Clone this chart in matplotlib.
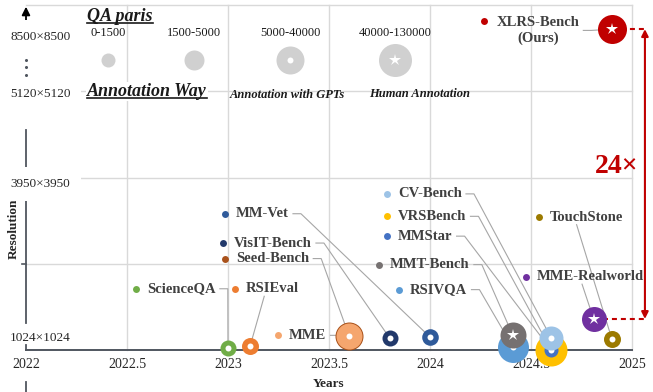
import matplotlib.pyplot as plt

plt.rcParams['font.family'] = ['Liberation Serif', 'DejaVu Serif']

# benchmarks (listed bottom-to-top in drawing order)
names = ['ScienceQA', 'RSIEval', 'Seed-Bench', 'MME', 'VisIT-Bench', 'MM-Vet',
         'RSIVQA', 'MMT-Bench', 'VRSBench', 'MMStar', 'CV-Bench',
         'MME-Realworld', 'TouchStone', 'XLRS-Bench\n(Ours)']
years = [2023.0, 2023.11, 2023.6, 2023.6, 2023.8, 2024.0, 2024.41, 2024.41,
         2024.6, 2024.6, 2024.6, 2024.81, 2024.9, 2024.9]
# position on the (broken) resolution axis, 0 = 1024x1024 baseline
res_level = [0.02, 0.05, 0.16, 0.16, 0.14, 0.15, 0.035, 0.17,
             0.0, 0.0, 0.14, 0.36, 0.13, 3.72]
# marker radius (px) encodes the number of QA pairs
qa_radius = [8, 8.5, 14, 13, 8, 8.3, 15.5, 13, 16, 7, 12, 12.5, 8.5, 14.5]
annotation = ['gpt', 'gpt', 'gpt', 'gpt', 'gpt', 'gpt', 'gpt', 'human',
              'gpt', 'gpt', 'gpt', 'human', 'gpt', 'human']
colors = ['#70AD47', '#ED7D31', '#A9521B', '#F5A66E', '#22396B', '#2F5A9A',
          '#5B9BD5', '#767171', '#FFC000', '#4472C4', '#9DC3E6',
          '#7030A0', '#9C7A00', '#C00000']

# label placement (dot position of each data label)
label_x = [2022.545, 2023.035, 2022.985, 2023.248, 2022.975, 2022.985, 2023.847,
           2023.748, 2023.787, 2023.787, 2023.787, 2024.475, 2024.540, 2024.267]
label_y = [0.71, 0.71, 1.06, 0.17, 1.24, 1.58, 0.70, 0.99, 1.55, 1.32, 1.81,
           0.85, 1.54, 3.81]
leader = ['side', ('below', 0.34), 'side', 'side', 'side', 'side', 'side', 'side',
          'side', 'side', 'side', ('below', 0.42), ('below', 0.36), 'side']

# size legend
qa_bins = ['0-1500', '1500-5000', '5000-40000', '40000-130000']
bin_radius = [7, 10, 14, 16.5]
bin_annotation = [None, None, 'gpt', 'human']
bin_x = [2022.406, 2022.832, 2023.307, 2023.827]

year_ticks = [2022, 2022.5, 2023, 2023.5, 2024, 2024.5, 2025]
res_labels = ['8500×8500', '5120×5120', '3950×3950', '1024×1024']
res_label_pos = [3.63, 2.97, 1.92, 0.14]

axis_col = '#50565F'
grid_col = '#D9D9D9'
text_col = '#404040'
red = '#C00000'

fig = plt.figure(figsize=(6.53, 3.92), dpi=100)
ax = fig.add_axes([26 / 653, 42 / 392, 606 / 653, 345 / 392])
ax.set_xlim(2022, 2025)
ax.set_ylim(0, 4)
for s in ax.spines.values():
    s.set_visible(False)
ax.set_yticks([])
ax.set_xticks(year_ticks, [f'{t:g}' for t in year_ticks])
ax.tick_params(axis='x', length=0, pad=6, labelsize=10, labelcolor='#262626')

# grid
for t in year_ticks[1:]:
    ax.axvline(t, color=grid_col, lw=1, zorder=0, clip_on=False)
for v in [1, 2, 3, 4]:
    ax.axhline(v, color=grid_col, lw=1, zorder=0, clip_on=False)

# x axis and broken y axis
ax.axhline(0, color=axis_col, lw=1.4, zorder=2, clip_on=False)
for lo, hi in [(2.09, 2.55), (0.31, 1.77), (0.0, 0.06), (-0.49, -0.37)]:
    ax.plot([2022, 2022], [lo, hi], color=axis_col, lw=1.3, clip_on=False, zorder=2)
ax.plot([2022 - 0.02, 2022], [1, 1], color=axis_col, lw=1.2, clip_on=False)
for v in [3.36, 3.28, 3.19]:
    ax.plot(2022, v, 'o', ms=1.2, color=axis_col, clip_on=False)
ax.annotate('', xy=(2022, 3.98), xytext=(2022, 3.78),
            arrowprops=dict(arrowstyle='-|>', color='black', lw=1.3,
                            mutation_scale=12, shrinkA=0, shrinkB=0),
            annotation_clip=False)

for i, (lab, v) in enumerate(zip(res_labels, res_label_pos)):
    box = dict(fc='white', ec='none', pad=8) if i < 3 else None
    ax.text(2022.07, v, lab, ha='center', va='center', fontsize=9.5,
            color='#262626', bbox=box, zorder=4, clip_on=False)

ax.text(2021.94, 1.40, 'Resolution', rotation=90, ha='center', va='center',
        fontsize=9.5, fontweight='bold', color='#262626', clip_on=False)
ax.text(2023.5, -0.39, 'Years', ha='center', va='center', fontsize=9.5,
        fontweight='bold', color='#262626', clip_on=False)

# legend block
legend_gray = '#D0D0D0'
qa_title = ax.text(2022.465, 3.81, 'QA paris', ha='center', va='baseline',
                   fontsize=13, fontweight='bold', style='italic', color='#1a1a1a')
way_title = ax.text(2022.599, 2.945, 'Annotation Way', ha='center', va='baseline',
                    fontsize=13, fontweight='bold', style='italic', color='#1a1a1a',
                    bbox=dict(fc='white', ec='none', pad=1), zorder=4)
ax.text(2023.292, 2.92, 'Annotation with GPTs', ha='center', va='baseline',
        fontsize=9, fontweight='bold', style='italic', color='#1a1a1a')
ax.text(2023.95, 2.93, 'Human Annotation', ha='center', va='baseline',
        fontsize=9, fontweight='bold', style='italic', color='#1a1a1a')
for lab, r, a, x in zip(qa_bins, bin_radius, bin_annotation, bin_x):
    ax.text(x, 3.675, lab, ha='center', va='center', fontsize=9, color='#1a1a1a')
    ax.plot(x, 3.36, 'o', ms=1.44 * r, color=legend_gray, mew=0, zorder=3)
    if a == 'gpt':
        ax.plot(x, 3.36, 'o', ms=4.3, color='white', mew=0, zorder=3.5)
    elif a == 'human':
        ax.plot(x, 3.36, '*', ms=9, color='white', mew=0, zorder=3.5)

# benchmark markers
for i in range(len(names)):
    z = 5 + 2 * i
    ax.plot(years[i], res_level[i], 'o', ms=1.44 * qa_radius[i], color=colors[i],
            mew=0, zorder=z, clip_on=False)
    if annotation[i] == 'gpt':
        ax.plot(years[i], res_level[i], 'o', ms=4.3, color='white', mew=0,
                zorder=z + 1, clip_on=False)
    else:
        ax.plot(years[i], res_level[i], '*', ms=9, color='white', mew=0,
                zorder=z + 1, clip_on=False)

# data labels
texts = []
for i, name in enumerate(names):
    ax.plot(label_x[i], label_y[i], 'o', ms=5, color=colors[i], mew=0, zorder=4)
    off = (9, -6.5) if '\n' in name else (8, 0)
    t = ax.annotate(name, (label_x[i], label_y[i]), xytext=off,
                    textcoords='offset points', ha='left', va='center',
                    multialignment='center', fontsize=10.5, fontweight='bold',
                    color=text_col, zorder=4)
    texts.append(t)

# 24x comparison
arrow_x = 2025.064
i_ours, i_mr = names.index('XLRS-Bench\n(Ours)'), names.index('MME-Realworld')
for j in (i_ours, i_mr):
    ax.plot([years[j], arrow_x], [res_level[j], res_level[j]], color=red, lw=1.5,
            ls=(0, (2.4, 1.9)), zorder=4, clip_on=False)
ax.annotate('', xy=(arrow_x, res_level[i_ours]), xytext=(arrow_x, res_level[i_mr]),
            arrowprops=dict(arrowstyle='<|-|>', color=red, lw=1.5,
                            mutation_scale=10, shrinkA=0, shrinkB=0),
            annotation_clip=False)
ax.text(2025.03, 2.13, '24×', ha='right', va='center', fontsize=20,
        fontweight='bold', color=red)

# leader lines and underlines need the rendered text extents
fig.canvas.draw()
rend = fig.canvas.get_renderer()
inv = ax.transData.inverted()
for i, t in enumerate(texts):
    bb = t.get_window_extent(rend)
    mx, my = ax.transData.transform((years[i], res_level[i]))
    if leader[i] == 'side':
        cy = (bb.y0 + bb.y1) / 2
        pts = [(bb.x1 + 4, cy), (bb.x1 + 12, cy), (mx, my)]
    else:
        frac = leader[i][1]
        pts = [(bb.x0 + frac * bb.width, bb.y0 - 1), (mx, my)]
    d = inv.transform(pts)
    ax.plot(d[:, 0], d[:, 1], color='#A6A6A6', lw=0.8, zorder=3, clip_on=False)

for t in (qa_title, way_title):
    bb = t.get_window_extent(rend)
    _, by = ax.transData.transform((2022, t.get_position()[1]))
    d = inv.transform([(bb.x0, by - 2), (bb.x1, by - 2)])
    ax.plot(d[:, 0], d[:, 1], color='#1a1a1a', lw=1.2, zorder=5)

fig.savefig('out.png', dpi=100)
